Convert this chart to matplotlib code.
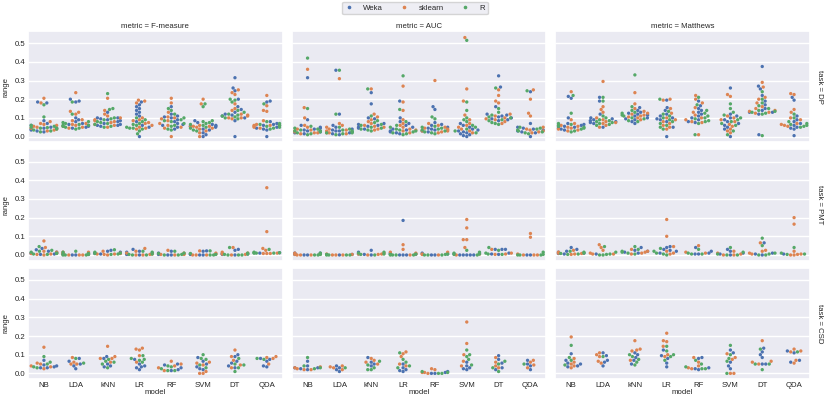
import pandas as pd
import numpy as np
import matplotlib
matplotlib.use("Agg")
import matplotlib.pyplot as plt
from matplotlib.lines import Line2D
import seaborn as sns

models = ["NB", "LDA", "kNN", "LR", "RF", "SVM", "DT", "QDA"]
sources = ["Weka", "sklearn", "R"]
metrics = ["F-measure", "AUC", "Matthews"]
tasks = ["DP", "PMT", "CSD"]

# each model: [Weka, sklearn, R]
dp_fmeasure = {
    "NB": [[0.18, 0.185, 0.085, 0.07, 0.06, 0.05, 0.045, 0.04, 0.035, 0.03, 0.025, 0.045],
           [0.205, 0.18, 0.08, 0.07, 0.065, 0.06, 0.055, 0.05, 0.045, 0.04, 0.035, 0.03],
           [0.17, 0.105, 0.06, 0.055, 0.05, 0.048, 0.045, 0.04, 0.035, 0.03, 0.025, 0.045]],
    "LDA": [[0.2, 0.19, 0.185, 0.1, 0.09, 0.08, 0.07, 0.065, 0.06, 0.055, 0.05, 0.045],
            [0.235, 0.135, 0.13, 0.12, 0.09, 0.085, 0.07, 0.065, 0.06, 0.055, 0.05, 0.045],
            [0.185, 0.12, 0.08, 0.075, 0.07, 0.065, 0.06, 0.055, 0.05, 0.045, 0.04, 0.06]],
    "kNN": [[0.13, 0.1, 0.1, 0.095, 0.09, 0.085, 0.08, 0.07, 0.065, 0.06, 0.06, 0.055],
            [0.205, 0.14, 0.12, 0.11, 0.1, 0.09, 0.085, 0.08, 0.075, 0.065, 0.06, 0.05],
            [0.23, 0.15, 0.145, 0.1, 0.095, 0.09, 0.08, 0.075, 0.07, 0.065, 0.055, 0.05]],
    "LR": [[0.185, 0.17, 0.16, 0.15, 0.14, 0.13, 0.12, 0.11, 0.08, 0.06, 0.05, 0.0],
           [0.195, 0.19, 0.18, 0.1, 0.09, 0.085, 0.075, 0.07, 0.06, 0.05, 0.045, 0.04],
           [0.1, 0.09, 0.08, 0.07, 0.065, 0.06, 0.05, 0.045, 0.045, 0.04, 0.03, 0.015]],
    "RF": [[0.16, 0.12, 0.11, 0.105, 0.1, 0.09, 0.08, 0.07, 0.065, 0.06, 0.05, 0.04],
           [0.205, 0.18, 0.13, 0.105, 0.1, 0.095, 0.085, 0.07, 0.06, 0.05, 0.045, 0.0],
           [0.15, 0.14, 0.12, 0.1, 0.09, 0.085, 0.08, 0.07, 0.06, 0.055, 0.04, 0.035]],
    "SVM": [[0.085, 0.075, 0.065, 0.06, 0.055, 0.055, 0.05, 0.04, 0.035, 0.02, 0.01, 0.0],
            [0.2, 0.175, 0.06, 0.055, 0.055, 0.055, 0.05, 0.045, 0.04, 0.03, 0.02, 0.0],
            [0.175, 0.16, 0.085, 0.08, 0.075, 0.07, 0.065, 0.06, 0.05, 0.045, 0.035, 0.03]],
    "DT": [[0.315, 0.26, 0.245, 0.2, 0.16, 0.145, 0.13, 0.12, 0.115, 0.11, 0.1, 0.085, 0.0],
           [0.25, 0.235, 0.225, 0.175, 0.15, 0.14, 0.12, 0.115, 0.11, 0.1, 0.1, 0.095],
           [0.2, 0.195, 0.185, 0.14, 0.13, 0.12, 0.115, 0.11, 0.105, 0.1, 0.095]],
    "QDA": [[0.19, 0.185, 0.08, 0.07, 0.065, 0.06, 0.05, 0.045, 0.04, 0.035, 0.0],
            [0.22, 0.165, 0.14, 0.135, 0.085, 0.065, 0.06, 0.06, 0.055, 0.05, 0.045],
            [0.175, 0.08, 0.07, 0.065, 0.06, 0.06, 0.055, 0.05, 0.045, 0.04]],
}

dp_auc = {
    "NB": [[0.315, 0.09, 0.06, 0.05, 0.045, 0.04, 0.035, 0.03, 0.025, 0.02, 0.015, 0.03],
           [0.36, 0.155, 0.1, 0.06, 0.05, 0.04, 0.035, 0.03, 0.025, 0.02, 0.015, 0.02],
           [0.42, 0.15, 0.055, 0.045, 0.04, 0.035, 0.03, 0.025, 0.02, 0.015, 0.01, 0.03]],
    "LDA": [[0.355, 0.12, 0.06, 0.05, 0.04, 0.035, 0.03, 0.025, 0.02, 0.015, 0.01, 0.03],
            [0.31, 0.07, 0.06, 0.05, 0.04, 0.035, 0.03, 0.025, 0.02, 0.02, 0.015],
            [0.355, 0.12, 0.05, 0.04, 0.035, 0.03, 0.025, 0.02, 0.015, 0.01, 0.02]],
    "kNN": [[0.235, 0.175, 0.1, 0.095, 0.07, 0.065, 0.06, 0.055, 0.05, 0.045, 0.04],
            [0.255, 0.12, 0.105, 0.09, 0.08, 0.07, 0.06, 0.055, 0.05, 0.04, 0.035],
            [0.255, 0.11, 0.085, 0.075, 0.065, 0.06, 0.05, 0.045, 0.04, 0.035, 0.03]],
    "LR": [[0.19, 0.1, 0.08, 0.07, 0.06, 0.05, 0.04, 0.035, 0.03, 0.025, 0.02, 0.015],
           [0.27, 0.185, 0.14, 0.09, 0.07, 0.06, 0.05, 0.04, 0.035, 0.03, 0.02],
           [0.325, 0.145, 0.08, 0.06, 0.05, 0.04, 0.035, 0.03, 0.025, 0.02, 0.015, 0.01]],
    "RF": [[0.16, 0.145, 0.075, 0.065, 0.06, 0.05, 0.045, 0.04, 0.035, 0.03, 0.025],
           [0.3, 0.07, 0.06, 0.05, 0.045, 0.04, 0.035, 0.03, 0.03, 0.025, 0.02],
           [0.105, 0.095, 0.055, 0.05, 0.045, 0.04, 0.035, 0.03, 0.025, 0.02, 0.015]],
    "SVM": [[0.07, 0.06, 0.05, 0.04, 0.035, 0.03, 0.025, 0.02, 0.015, 0.01, 0.005, 0.0],
            [0.53, 0.255, 0.19, 0.115, 0.09, 0.07, 0.06, 0.05, 0.04, 0.03, 0.02],
            [0.515, 0.185, 0.14, 0.1, 0.09, 0.08, 0.06, 0.05, 0.04, 0.03, 0.02]],
    "DT": [[0.325, 0.265, 0.16, 0.12, 0.115, 0.11, 0.105, 0.1, 0.095, 0.09, 0.085],
           [0.25, 0.22, 0.19, 0.18, 0.12, 0.11, 0.1, 0.095, 0.09, 0.08, 0.07],
           [0.26, 0.15, 0.13, 0.115, 0.105, 0.1, 0.09, 0.085, 0.075, 0.07, 0.065]],
    "QDA": [[0.24, 0.07, 0.05, 0.045, 0.04, 0.035, 0.03, 0.025, 0.02, 0.0],
            [0.25, 0.2, 0.125, 0.11, 0.05, 0.04, 0.035, 0.03, 0.025, 0.02],
            [0.245, 0.05, 0.045, 0.04, 0.035, 0.03, 0.025, 0.02, 0.015]],
}

dp_matthews = {
    "NB": [[0.215, 0.205, 0.1, 0.07, 0.065, 0.06, 0.055, 0.05, 0.045, 0.04, 0.035],
           [0.24, 0.09, 0.07, 0.06, 0.055, 0.05, 0.045, 0.04, 0.035, 0.03],
           [0.22, 0.125, 0.07, 0.065, 0.06, 0.055, 0.05, 0.045, 0.04, 0.03, 0.025]],
    "LDA": [[0.21, 0.19, 0.12, 0.1, 0.095, 0.09, 0.085, 0.08, 0.075, 0.07, 0.05],
            [0.295, 0.16, 0.145, 0.13, 0.1, 0.09, 0.08, 0.075, 0.07, 0.06, 0.05],
            [0.21, 0.19, 0.11, 0.1, 0.09, 0.085, 0.08, 0.075, 0.07, 0.065, 0.06]],
    "kNN": [[0.155, 0.14, 0.13, 0.125, 0.12, 0.115, 0.11, 0.1, 0.095, 0.09, 0.08, 0.07],
            [0.235, 0.175, 0.15, 0.135, 0.125, 0.12, 0.115, 0.11, 0.105, 0.1, 0.09],
            [0.33, 0.16, 0.14, 0.13, 0.125, 0.115, 0.11, 0.1, 0.095, 0.085, 0.08]],
    "LR": [[0.195, 0.155, 0.14, 0.12, 0.11, 0.1, 0.095, 0.09, 0.08, 0.05, 0.0],
           [0.2, 0.195, 0.15, 0.125, 0.1, 0.09, 0.08, 0.07, 0.06, 0.05, 0.04],
           [0.2, 0.135, 0.12, 0.11, 0.1, 0.09, 0.08, 0.07, 0.06, 0.05, 0.04]],
    "RF": [[0.19, 0.165, 0.15, 0.14, 0.13, 0.12, 0.11, 0.1, 0.09, 0.08, 0.075],
           [0.22, 0.2, 0.18, 0.155, 0.13, 0.115, 0.1, 0.09, 0.08, 0.075, 0.01],
           [0.21, 0.17, 0.14, 0.125, 0.11, 0.1, 0.095, 0.085, 0.08, 0.07, 0.01]],
    "SVM": [[0.26, 0.12, 0.11, 0.1, 0.09, 0.08, 0.07, 0.06, 0.05, 0.04, 0.0],
            [0.225, 0.215, 0.11, 0.1, 0.09, 0.08, 0.065, 0.055, 0.04, 0.03, 0.02],
            [0.175, 0.15, 0.13, 0.115, 0.1, 0.09, 0.08, 0.07, 0.06, 0.03, 0.01]],
    "DT": [[0.375, 0.27, 0.255, 0.22, 0.19, 0.17, 0.15, 0.14, 0.13, 0.13, 0.12, 0.01],
           [0.29, 0.265, 0.21, 0.2, 0.18, 0.16, 0.15, 0.14, 0.135, 0.13, 0.125],
           [0.24, 0.2, 0.18, 0.165, 0.15, 0.14, 0.135, 0.13, 0.125, 0.12, 0.005]],
    "QDA": [[0.21, 0.195, 0.11, 0.09, 0.08, 0.07, 0.06, 0.05, 0.045, 0.04, 0.005],
            [0.23, 0.225, 0.145, 0.13, 0.1, 0.09, 0.07, 0.065, 0.06, 0.055],
            [0.12, 0.1, 0.08, 0.07, 0.065, 0.06, 0.055, 0.05]],
}

pmt_fmeasure = {
    "NB": [[0.035, 0.028, 0.02, 0.015, 0.01, 0.008, 0.005, 0.003],
           [0.075, 0.04, 0.02, 0.015, 0.01, 0.008, 0.005, 0.003, 0.0],
           [0.045, 0.025, 0.02, 0.015, 0.01, 0.008, 0.005, 0.003]],
    "LDA": [[0.01, 0.005, 0.003, 0.0, 0.0],
            [0.015, 0.015, 0.01, 0.005, 0.003, 0.0, 0.0, 0.0],
            [0.02, 0.015, 0.008, 0.005, 0.003, 0.0, 0.0, 0.0]],
    "kNN": [[0.025, 0.02, 0.015, 0.01, 0.008, 0.005],
            [0.02, 0.01, 0.008, 0.005, 0.005, 0.003, 0.0],
            [0.028, 0.015, 0.01, 0.008, 0.005, 0.003]],
    "LR": [[0.03, 0.02, 0.015, 0.01, 0.005, 0.003, 0.0],
           [0.035, 0.02, 0.01, 0.005, 0.003, 0.0, 0.0],
           [0.02, 0.015, 0.005, 0.003, 0.0, 0.0]],
    "RF": [[0.02, 0.01, 0.005, 0.003, 0.0, 0.0],
           [0.025, 0.01, 0.005, 0.003, 0.003, 0.0],
           [0.02, 0.01, 0.008, 0.003, 0.0, 0.0]],
    "SVM": [[0.022, 0.02, 0.005, 0.003, 0.0, 0.0],
            [0.022, 0.01, 0.005, 0.0, 0.0, 0.0],
            [0.022, 0.008, 0.003, 0.0, 0.0]],
    "DT": [[0.03, 0.025, 0.008, 0.005, 0.003, 0.0],
           [0.04, 0.015, 0.01, 0.005, 0.003, 0.0],
           [0.04, 0.01, 0.005, 0.003, 0.0, 0.0, 0.0]],
    "QDA": [[0.012, 0.01],
            [0.36, 0.125, 0.035, 0.025, 0.01, 0.008, 0.008, 0.008],
            [0.03, 0.015, 0.012, 0.012, 0.01, 0.01, 0.01]],
}

pmt_auc = {
    "NB": [[0.01, 0.01, 0.005, 0.003, 0.0, 0.0],
           [0.01, 0.005, 0.003, 0.0, 0.0, 0.0],
           [0.01, 0.005, 0.003, 0.0, 0.0]],
    "LDA": [[0.003, 0.0],
            [0.005, 0.003, 0.0, 0.0, 0.0],
            [0.003, 0.0, 0.0, 0.0, 0.0]],
    "kNN": [[0.025, 0.015, 0.005, 0.003, 0.0],
            [0.01, 0.005, 0.005, 0.003, 0.0],
            [0.015, 0.01, 0.005, 0.003, 0.0]],
    "LR": [[0.185, 0.01, 0.005, 0.003, 0.0, 0.0, 0.0],
           [0.055, 0.03, 0.015, 0.01, 0.005, 0.0],
           [0.005, 0.003, 0.0, 0.0, 0.0, 0.0]],
    "RF": [[0.01, 0.005, 0.0, 0.0],
           [0.015, 0.005, 0.003, 0.0],
           [0.005, 0.003, 0.0, 0.0, 0.0]],
    "SVM": [[0.01, 0.005, 0.0, 0.0, 0.0, 0.0, 0.0],
            [0.19, 0.145, 0.082, 0.082, 0.04, 0.005, 0.0],
            [0.025, 0.015, 0.01, 0.005, 0.003, 0.0]],
    "DT": [[0.03, 0.03, 0.03, 0.01, 0.005, 0.003],
           [0.03, 0.01, 0.005, 0.003],
           [0.04, 0.025, 0.01, 0.005, 0.003]],
    "QDA": [[0.0, 0.0],
            [0.115, 0.095, 0.005, 0.0, 0.0, 0.0],
            [0.015, 0.003, 0.0, 0.0, 0.0]],
}

pmt_matthews = {
    "NB": [[0.04, 0.03, 0.02, 0.015, 0.01, 0.008, 0.005],
           [0.025, 0.015, 0.01, 0.008, 0.005, 0.003],
           [0.02, 0.015, 0.01, 0.008, 0.005, 0.003]],
    "LDA": [[0.005],
            [0.055, 0.04, 0.025, 0.01, 0.005, 0.005],
            [0.045, 0.015, 0.005, 0.003, 0.0, 0.0]],
    "kNN": [[0.04, 0.025, 0.02, 0.015, 0.01],
            [0.03, 0.02, 0.015, 0.01, 0.005],
            [0.045, 0.03, 0.02, 0.015, 0.01, 0.005]],
    "LR": [[0.045, 0.04, 0.03, 0.025, 0.02, 0.01],
           [0.19, 0.1, 0.045, 0.02, 0.01, 0.005],
           [0.035, 0.02, 0.01, 0.005, 0.0]],
    "RF": [[0.04, 0.02, 0.01, 0.005, 0.005],
           [0.05, 0.015, 0.01],
           [0.03, 0.01, 0.005, 0.005]],
    "SVM": [[0.03, 0.02, 0.01, 0.005, 0.0],
            [0.02, 0.01, 0.005, 0.0, 0.0],
            [0.04, 0.015, 0.005, 0.0, 0.0]],
    "DT": [[0.065, 0.01, 0.005, 0.0],
           [0.065, 0.025, 0.02, 0.01, 0.005],
           [0.09, 0.05, 0.01, 0.005, 0.0, 0.0]],
    "QDA": [[0.005],
            [0.2, 0.165, 0.02, 0.005, 0.003, 0.0, 0.0],
            [0.04, 0.01, 0.005, 0.003]],
}

csd_fmeasure = {
    "NB": [[0.07, 0.045, 0.04, 0.035, 0.03, 0.03],
           [0.14, 0.055, 0.05, 0.035, 0.025, 0.04],
           [0.09, 0.06, 0.05, 0.035, 0.03]],
    "LDA": [[0.08, 0.065, 0.05, 0.04, 0.025],
            [0.085, 0.06, 0.05, 0.05],
            [0.08, 0.055]],
    "kNN": [[0.09, 0.08, 0.05, 0.04, 0.035],
            [0.145, 0.09, 0.08, 0.08, 0.06],
            [0.075, 0.065, 0.06, 0.05, 0.03]],
    "LR": [[0.075, 0.05, 0.04, 0.035, 0.03, 0.02],
           [0.135, 0.13, 0.125, 0.095, 0.06],
           [0.095, 0.08, 0.075, 0.07, 0.06]],
    "RF": [[0.05, 0.045, 0.03, 0.02, 0.015],
           [0.065, 0.05, 0.04, 0.03, 0.015],
           [0.04, 0.035, 0.025, 0.015, 0.015]],
    "SVM": [[0.085, 0.065, 0.05, 0.035, 0.025, 0.02],
            [0.06, 0.055, 0.045, 0.01, 0.0, 0.0],
            [0.1, 0.08, 0.075, 0.045, 0.03]],
    "DT": [[0.1, 0.09, 0.065, 0.055, 0.04, 0.03],
           [0.125, 0.09, 0.07, 0.045, 0.03],
           [0.08, 0.05, 0.045, 0.03, 0.01]],
    "QDA": [[0.08, 0.075, 0.065, 0.04, 0.035],
            [0.09, 0.085, 0.08, 0.05],
            [0.08, 0.075]],
}

csd_auc = {
    "NB": [[0.065, 0.04, 0.03, 0.03, 0.025, 0.02],
           [0.035, 0.03, 0.025, 0.02, 0.02],
           [0.085, 0.04, 0.03, 0.025]],
    "LDA": [[0.04, 0.03, 0.02, 0.01],
            [0.04, 0.035, 0.03, 0.02],
            [0.03]],
    "kNN": [[0.085, 0.06, 0.05, 0.04],
            [0.08, 0.07, 0.06, 0.05],
            [0.065, 0.045, 0.03, 0.02, 0.02]],
    "LR": [[0.05, 0.03, 0.02, 0.015, 0.01],
           [0.115, 0.105, 0.09, 0.05, 0.04],
           [0.11, 0.075, 0.06, 0.04, 0.03]],
    "RF": [[0.01, 0.005, 0.0, 0.0],
           [0.025, 0.02, 0.005, 0.005, 0.0],
           [0.01, 0.005, 0.0, 0.0]],
    "SVM": [[0.06, 0.04, 0.03, 0.025, 0.02],
            [0.275, 0.16, 0.1, 0.065, 0.04],
            [0.125, 0.1, 0.09, 0.075, 0.045]],
    "DT": [[0.095, 0.075, 0.055, 0.03, 0.02],
           [0.085, 0.06, 0.04, 0.03],
           [0.065, 0.05, 0.03, 0.01]],
    "QDA": [[0.07, 0.05, 0.04, 0.02],
            [0.07, 0.06, 0.045, 0.03],
            [0.05]],
}

csd_matthews = {
    "NB": [[0.105, 0.07, 0.055, 0.05, 0.04, 0.035],
           [0.195, 0.08, 0.06, 0.05, 0.04, 0.03],
           [0.15, 0.085, 0.07, 0.045]],
    "LDA": [[0.11, 0.095, 0.07, 0.06, 0.04],
            [0.11, 0.1, 0.09, 0.065, 0.055],
            [0.09]],
    "kNN": [[0.11, 0.1, 0.085, 0.07, 0.05],
            [0.175, 0.13, 0.125, 0.12, 0.07],
            [0.1, 0.09, 0.075, 0.06, 0.045]],
    "LR": [[0.125, 0.095, 0.08, 0.055, 0.035],
           [0.215, 0.175, 0.17, 0.145, 0.1, 0.09],
           [0.145, 0.12, 0.1, 0.09, 0.07]],
    "RF": [[0.085, 0.08, 0.03, 0.025, 0.02],
           [0.085, 0.06, 0.04, 0.03, 0.025],
           [0.07, 0.05, 0.035, 0.025, 0.025]],
    "SVM": [[0.125, 0.11, 0.06, 0.04, 0.025],
            [0.105, 0.085, 0.075, 0.0, 0.0],
            [0.15, 0.1, 0.08, 0.065, 0.0]],
    "DT": [[0.135, 0.115, 0.1, 0.085, 0.05, 0.05],
           [0.175, 0.065, 0.06, 0.05],
           [0.13, 0.05, 0.05, 0.02]],
    "QDA": [[0.12, 0.11, 0.07, 0.06],
            [0.13, 0.12, 0.115, 0.07, 0.055],
            [0.115]],
}

panels = {
    ("DP", "F-measure"): dp_fmeasure, ("DP", "AUC"): dp_auc, ("DP", "Matthews"): dp_matthews,
    ("PMT", "F-measure"): pmt_fmeasure, ("PMT", "AUC"): pmt_auc, ("PMT", "Matthews"): pmt_matthews,
    ("CSD", "F-measure"): csd_fmeasure, ("CSD", "AUC"): csd_auc, ("CSD", "Matthews"): csd_matthews,
}

rows = []
for (task, metric), d in panels.items():
    for m in models:
        for src, vals in zip(sources, d[m]):
            for v in vals:
                rows.append((task, metric, m, src, v))
df = pd.DataFrame(rows, columns=["task", "metric", "model", "source", "range"])

sns.set_theme(style="darkgrid")
plt.rcParams['font.family'] = ['Liberation Sans', 'DejaVu Sans']
fs = 5.6
colors = sns.color_palette("deep")[:3]

fig, axes = plt.subplots(3, 3, figsize=(8.3, 3.97), sharex=True, sharey=True)
plt.subplots_adjust(left=28/830, right=810/830, top=1-31/397, bottom=1-379/397,
                    wspace=0.035, hspace=0.065)

for i, task in enumerate(tasks):
    for j, metric in enumerate(metrics):
        ax = axes[i, j]
        sub = df[(df.task == task) & (df.metric == metric)]
        sns.swarmplot(data=sub, x="model", y="range", hue="source", order=models,
                      hue_order=sources, palette=colors, size=2.4, ax=ax, legend=False)
        ax.set_ylim(-0.03, 0.565)
        ax.set_yticks([0.0, 0.1, 0.2, 0.3, 0.4, 0.5])
        ax.tick_params(length=0, pad=2, labelsize=fs)
        ax.set_xlabel("model" if i == 2 else "", fontsize=fs)
        ax.set_ylabel("range" if j == 0 else "", fontsize=fs)
        ax.xaxis.set_label_coords(0.5, -0.09)
        ax.yaxis.set_label_coords(-0.072, 0.5)
        if i == 0:
            ax.set_title(f"metric = {metric}", pad=1.8, fontsize=fs)
        if j == 2:
            ax.text(1.022, 0.5, f"task = {task}", transform=ax.transAxes, rotation=270,
                    va="center", ha="left", fontsize=fs)

handles = [Line2D([], [], marker="o", linestyle="", color=c, markersize=1.6) for c in colors]
fig.legend(handles, sources, loc="upper center", bbox_to_anchor=(0.5, 1.0), ncol=3,
           frameon=True, columnspacing=2.2, handletextpad=1.35, fontsize=fs,
           borderpad=0.35, handlelength=1.0, borderaxespad=0.2)

fig.savefig("out.png", dpi=100)
